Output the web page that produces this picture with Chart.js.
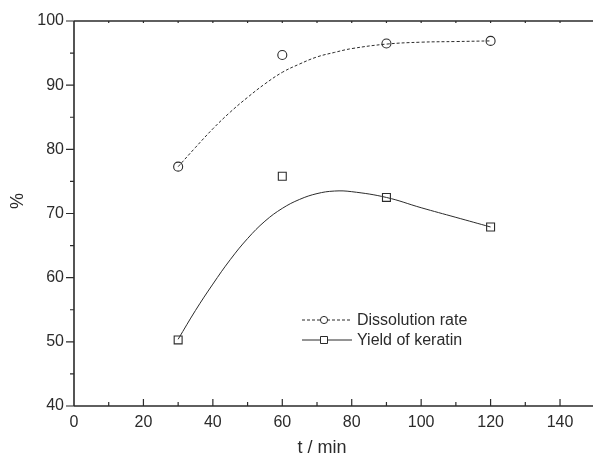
<!DOCTYPE html>
<html lang="en">
<head>
  <meta charset="UTF-8" />
  <title>Dissolution rate and yield of keratin</title>
  <script src="https://cdn.jsdelivr.net/npm/chart.js"></script>
  <style>
    html, body { margin: 0; padding: 0; background: #fff; }
    #wrap { width: 593px; height: 458px; }
  </style>
</head>
<body>
<div id="wrap"><canvas id="chart" width="593" height="458"></canvas></div>
<script>
  // measured points
  const times = [30, 60, 90, 120];
  const dissolution = [77.3, 94.7, 96.5, 96.9];
  const keratinYield = [50.3, 75.8, 72.5, 67.9];

  // fitted curves
  const fitTimes = [30, 35, 40, 45, 50, 55, 60, 65, 70, 75, 80, 90, 100, 110, 120];
  const dissolutionFit = [77.3, 80.3, 83.2, 85.8, 88.1, 90.2, 92.0, 93.3, 94.4, 95.1, 95.7, 96.4, 96.7, 96.8, 96.9];
  const yieldFit = [50.4, 54.9, 59.0, 62.8, 66.1, 68.8, 70.8, 72.2, 73.1, 73.5, 73.4, 72.5, 70.9, 69.4, 67.9];

  const seriesNames = ['Dissolution rate', 'Yield of keratin'];
  const xTickLabels = [0, 20, 40, 60, 80, 100, 120, 140];
  const yTickLabels = [40, 50, 60, 70, 80, 90, 100];
  const xTitle = 't / min';
  const yTitle = '%';

  const ink = '#2b2b2b';
  const font = '"Liberation Sans", Arial, sans-serif';

  const pts = (xs, ys) => xs.map((x, i) => ({ x: x, y: ys[i] }));

  // axes, tick marks, titles and the legend
  const frame = {
    id: 'frame',
    afterDraw(chart) {
      const ctx = chart.ctx;
      const a = chart.chartArea;
      const xs = chart.scales.x, ys = chart.scales.y;
      ctx.save();
      ctx.strokeStyle = ink;
      ctx.lineWidth = 1.6;
      ctx.beginPath();
      ctx.moveTo(a.left, a.top); ctx.lineTo(a.right, a.top);
      ctx.moveTo(a.left, a.top); ctx.lineTo(a.left, a.bottom);
      ctx.moveTo(a.left, a.bottom); ctx.lineTo(a.right, a.bottom);
      ctx.stroke();

      ctx.lineWidth = 1.2;
      ctx.beginPath();
      for (let v = 10; v < 150; v += 10) {
        const px = xs.getPixelForValue(v);
        const len = v % 20 === 0 ? 7 : 4;
        ctx.moveTo(px, a.bottom); ctx.lineTo(px, a.bottom - len);
        ctx.moveTo(px, a.top); ctx.lineTo(px, a.top + 2);
      }
      for (let v = 40; v <= 100; v += 5) {
        const py = ys.getPixelForValue(v);
        const len = v % 10 === 0 ? 8 : 4;
        ctx.moveTo(a.left, py); ctx.lineTo(a.left - len, py);
      }
      ctx.stroke();

      // axis titles
      ctx.fillStyle = ink;
      ctx.font = '18px ' + font;
      ctx.textAlign = 'center';
      ctx.textBaseline = 'middle';
      ctx.fillText(xTitle, 322, 448);
      ctx.save();
      ctx.translate(18, 201);
      ctx.rotate(-Math.PI / 2);
      ctx.fillText(yTitle, 0, 0);
      ctx.restore();

      // legend
      const rows = [
        { y: 320, dash: [3, 2], shape: 'circle' },
        { y: 340, dash: [], shape: 'rect' }
      ];
      ctx.font = '16px ' + font;
      ctx.textAlign = 'left';
      ctx.lineWidth = 1;
      rows.forEach((r, i) => {
        ctx.setLineDash(r.dash);
        ctx.strokeStyle = ink;
        ctx.beginPath();
        ctx.moveTo(302, r.y); ctx.lineTo(352, r.y);
        ctx.stroke();
        ctx.setLineDash([]);
        ctx.fillStyle = '#fff';
        ctx.beginPath();
        if (r.shape === 'circle') ctx.arc(324, r.y, 3.6, 0, Math.PI * 2);
        else ctx.rect(320.5, r.y - 3.5, 7, 7);
        ctx.fill();
        ctx.stroke();
        ctx.fillStyle = ink;
        ctx.fillText(seriesNames[i], 357, r.y + 1);
      });
      ctx.restore();
    }
  };

  new Chart(document.getElementById('chart'), {
    type: 'scatter',
    data: {
      datasets: [
        {
          label: seriesNames[0] + ' fit',
          data: pts(fitTimes, dissolutionFit),
          showLine: true,
          borderColor: ink,
          borderWidth: 1,
          borderDash: [3, 2],
          pointRadius: 0,
          tension: 0.4
        },
        {
          label: seriesNames[1] + ' fit',
          data: pts(fitTimes, yieldFit),
          showLine: true,
          borderColor: ink,
          borderWidth: 1,
          pointRadius: 0,
          tension: 0.4
        },
        {
          label: seriesNames[0],
          data: pts(times, dissolution),
          pointStyle: 'circle',
          pointRadius: 4.5,
          pointBackgroundColor: '#fff',
          pointBorderColor: ink,
          pointBorderWidth: 1.1
        },
        {
          label: seriesNames[1],
          data: pts(times, keratinYield),
          pointStyle: 'rect',
          pointRadius: 5.6,
          pointBackgroundColor: '#fff',
          pointBorderColor: ink,
          pointBorderWidth: 1.1
        }
      ]
    },
    options: {
      responsive: false,
      animation: false,
      layout: { autoPadding: false, padding: { top: 21, right: 0, left: 0, bottom: 0 } },
      plugins: { legend: { display: false }, tooltip: { enabled: false } },
      scales: {
        x: {
          type: 'linear',
          min: 0,
          max: 149.5,
          grid: { display: false, drawTicks: false },
          border: { display: false },
          afterFit: s => { s.height = 52; s.paddingLeft = 0; s.paddingRight = 0; },
          ticks: {
            stepSize: 10,
            includeBounds: false,
            autoSkip: false,
            maxRotation: 0,
            padding: 7,
            color: ink,
            font: { family: font, size: 16 },
            callback: v => xTickLabels.includes(Math.round(v)) && Math.abs(v - Math.round(v)) < 1e-6 ? String(Math.round(v)) : ''
          }
        },
        y: {
          min: 40,
          max: 100,
          grid: { display: false, drawTicks: false },
          border: { display: false },
          afterFit: s => { s.width = 74; s.paddingTop = 0; s.paddingBottom = 0; },
          ticks: {
            stepSize: 5,
            autoSkip: false,
            padding: 10,
            color: ink,
            font: { family: font, size: 16 },
            callback: v => yTickLabels.includes(Math.round(v)) ? String(Math.round(v)) : ''
          }
        }
      }
    },
    plugins: [frame]
  });
</script>
</body>
</html>
